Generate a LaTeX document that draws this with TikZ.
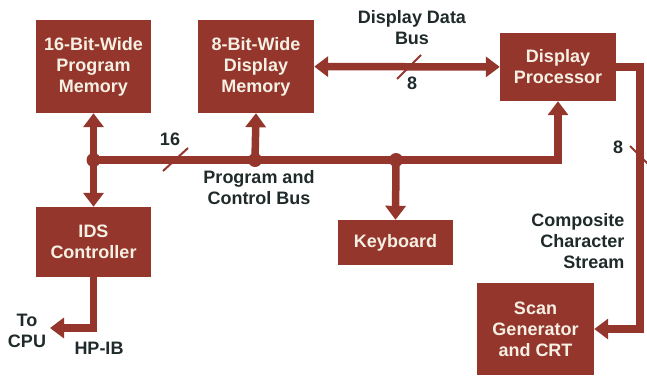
\documentclass[tikz,border=0pt]{standalone}
\usepackage{fontspec}
\setmainfont{Liberation Sans}
\usetikzlibrary{arrows.meta}
\definecolor{brick}{RGB}{148,54,44}
\definecolor{ink}{RGB}{32,42,42}
\definecolor{cream}{RGB}{246,240,228}
\begin{document}
\begin{tikzpicture}[x=1pt, y=-1pt, >={Triangle[width=20pt,length=14pt]},
block/.style={rectangle,fill=brick,text=cream,align=center,inner sep=0pt,font=\fontsize{18}{21}\selectfont\bfseries},
dot/.style={circle,fill=brick,minimum size=14pt,inner sep=0pt},
bus/.style={draw=brick,line width=7.5pt},
tick/.style={draw=brick,line width=2pt}]%
\useasboundingbox (0,0) rectangle (647,378);
\begin{scope}
\node[block,minimum width=115pt,minimum height=93pt] (pm) at (93.5,66.5) {16-Bit-Wide\\Program\\Memory};
\node[block,minimum width=116pt,minimum height=93pt] (dm) at (256,66.5) {8-Bit-Wide\\Display\\Memory};
\node[block,minimum width=116pt,minimum height=68pt] (dp) at (558,67) {Display\\Processor};
\node[block,minimum width=115pt,minimum height=70pt] (ids) at (93.5,242) {IDS\\Controller};
\node[block,minimum width=115pt,minimum height=45pt] (kb) at (395.5,242.5) {Keyboard};
\node[block,minimum width=117pt,minimum height=92pt] (scan) at (535.5,329) {Scan\\Generator\\and CRT};
\node[dot] (j1) at (93.5,160) {};
\node[dot] (j2) at (255,160) {};
\node[dot] (j3) at (396,160) {};
\coordinate (c1) at (640,67);
\coordinate (cpu) at (50,328);
\end{scope}
\begin{scope}[every node/.style={text=ink,align=center,font=\fontsize{18}{21}\selectfont\bfseries}]
\node (l16) at (170,139) {16};
\node (l8a) at (412,83) {8};
\node (lddb) at (412,28) {Display Data\\Bus};
\node (lpcb) at (259,188) {Program and\\Control Bus};
\node (l8b) at (618,147) {8};
\node[anchor=east,align=right] (lccs) at (628,241) {Composite\\Character\\Stream};
\node (lcpu) at (27,331) {To\\CPU};
\node (lhpib) at (99,348) {HP-IB};
\end{scope}
\begin{scope}[bus]
\draw[<->] (pm) -- (ids);
\draw[->] (j1.center) -| (dp.south);
\draw[->] (j2.center) -- (dm.south);
\draw[->] (j3.center) -- (kb.north);
\draw[<->] (dm) -- (dp);
\draw[->] (dp.east) -- (c1) |- (scan.east);
\draw[->] (ids.south) |- (cpu);
\end{scope}
\draw[tick] (163,171) -- (188,148);
\draw[tick] (397,79) -- (421,55);
\draw[tick] (630,146) -- (650,166);
\end{tikzpicture}
\end{document}
